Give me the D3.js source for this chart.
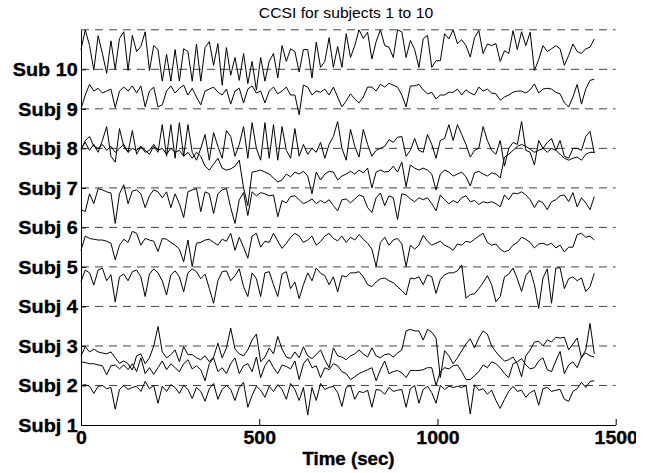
<!DOCTYPE html>
<html>
<head>
<meta charset="utf-8">
<script src="https://cdn.jsdelivr.net/npm/d3@7"></script>
<style>
body { margin: 0; background: #fff; }
svg { display: block; overflow: hidden; }
text { font-family: "Liberation Sans", Arial, Helvetica, sans-serif; }
</style>
</head>
<body>
<svg id="chart" width="636" height="473"></svg>
<script>
const title = "CCSI for subjects 1 to 10";
const xLabel = "Time (sec)";
const xTicks = [0, 500, 1000, 1500];
const yTicks = [1, 2, 3, 4, 5, 6, 7, 8, 9, 10];
const yTickLabels = ["Subj 1", "Subj 2", "Subj 3", "Subj 4", "Subj 5", "Subj 6", "Subj 7", "Subj 8", "Subj 9", "Sub 10"];
const dashedLevels = [2, 3, 4, 5, 6, 7, 8, 9, 10, 11];
const sampleStep = 12; // seconds between samples

// one CCSI trace per subject, already offset to its row
const subj1 = [2.0, 2.02, 1.98, 1.8, 1.98, 2.0, 1.92, 1.95, 1.4, 1.9,
  2.0, 1.9, 1.95, 1.98, 1.85, 2.1, 1.92, 2.0, 1.55, 1.98,
  1.85, 2.02, 1.95, 1.8, 2.0, 1.9, 1.67, 1.95, 1.85, 1.6,
  1.92, 2.05, 1.65, 1.9, 2.0, 1.9, 1.62, 1.95, 2.08, 1.45,
  1.75, 1.98, 1.88, 1.7, 1.98, 1.85, 2.02, 1.9, 1.65, 2.05,
  1.9, 1.62, 1.95, 1.25, 1.95, 1.62, 2.05, 1.9, 1.95, 1.98,
  1.82, 1.47, 1.95, 2.0, 1.65, 1.85, 1.82, 1.88, 1.45, 1.9,
  1.88, 1.78, 1.95, 1.85, 1.88, 1.9, 1.45, 1.92, 2.0, 1.55,
  1.9, 1.98, 1.82, 1.55, 2.0, 1.9, 1.98, 1.95, 1.98, 1.95,
  2.0, 1.28, 2.02, 1.88, 1.92, 1.78, 1.88, 1.62, 1.42, 1.65,
  1.85, 1.98, 1.85, 1.88, 1.7, 1.82, 1.88, 1.5, 1.92, 1.95,
  1.85, 1.88, 1.9, 1.65, 1.6, 1.85, 1.92, 2.08, 1.95, 2.1,
  2.12];
const subj2 = [2.6, 2.58, 2.55, 2.55, 2.52, 2.5, 2.27, 2.5, 2.52, 2.42,
  2.52, 2.4, 2.55, 2.35, 2.7, 2.3, 2.45, 2.28, 2.45, 2.62,
  2.4, 2.55, 2.45, 2.35, 2.55, 2.65, 2.42, 2.5, 2.4, 2.12,
  2.55, 2.7, 2.35, 2.45, 2.3, 2.55, 2.7, 2.3, 2.5, 2.55,
  2.35, 2.72, 2.2, 2.5, 2.65, 2.45, 2.3, 2.52, 2.48, 2.42,
  2.62, 2.15, 2.55, 2.68, 2.45, 2.5, 2.2, 2.45, 2.4, 2.55,
  2.5, 2.35, 2.3, 2.15, 2.22, 2.3, 2.35, 2.4, 2.45, 2.12,
  2.4, 2.62, 2.3, 2.35, 2.38, 2.32, 2.2, 2.38, 2.38, 2.38,
  2.4, 2.45, 2.45, 2.0, 2.35, 2.45, 2.42, 2.5, 2.52, 2.35,
  2.15, 2.15, 2.25, 2.35, 2.52, 2.45, 2.6, 2.55, 2.45, 2.3,
  2.2, 2.55, 2.6, 2.68, 2.52, 2.42, 2.45, 2.62, 2.7, 2.4,
  2.35, 2.62, 2.86, 2.3, 2.52, 2.6, 2.45, 2.72, 2.82, 2.75,
  2.72];
const subj3 = [2.75, 2.98, 2.85, 2.92, 2.85, 2.82, 2.8, 2.85, 2.7, 2.56,
  2.62, 2.55, 2.39, 2.75, 2.8, 2.55, 2.7, 3.0, 3.49, 2.85,
  2.7, 2.78, 2.9, 2.6, 2.98, 2.78, 2.78, 2.7, 2.65, 2.75,
  2.6, 2.72, 3.07, 2.7, 2.95, 3.45, 2.92, 2.8, 2.75, 2.9,
  3.15, 3.3, 2.6, 2.72, 2.95, 2.8, 3.24, 2.92, 2.72, 2.68,
  2.85, 2.7, 2.98, 2.75, 2.68, 2.78, 2.9, 2.65, 2.45, 2.95,
  2.75, 2.72, 2.65, 2.75, 2.8, 2.9, 2.8, 2.72, 2.95, 2.75,
  2.7, 2.78, 2.8, 2.72, 2.82, 2.9, 3.38, 3.42, 3.38, 3.38,
  3.15, 3.42, 3.35, 3.2, 2.2, 2.88, 2.75, 2.55, 2.7, 2.88,
  3.05, 3.18, 2.95, 3.2, 3.38, 3.3, 3.0, 2.85, 2.72, 2.62,
  2.65, 2.72, 2.55, 2.22, 2.75, 2.9, 3.1, 3.12, 3.0, 3.15,
  3.1, 3.22, 3.2, 3.22, 2.9, 3.05, 3.2, 2.7, 2.9, 3.57,
  2.8];
const subj4 = [4.63, 4.92, 4.85, 4.54, 4.92, 4.97, 4.65, 4.8, 4.11, 4.75,
  4.82, 4.65, 4.88, 4.92, 4.75, 4.25, 4.82, 4.95, 4.85, 4.65,
  4.29, 4.8, 4.9, 4.75, 4.37, 4.85, 4.95, 4.88, 4.7, 4.82,
  4.45, 4.08, 4.65, 4.88, 4.9, 4.65, 4.78, 4.95, 4.5, 4.25,
  4.85, 4.7, 4.25, 4.85, 4.88, 4.55, 4.25, 4.82, 4.88, 4.45,
  4.62, 4.2, 4.55, 4.85, 4.65, 4.97, 4.84, 4.78, 4.55, 4.75,
  4.37, 4.78, 4.75, 4.85, 4.85, 4.88, 4.75, 4.55, 4.5, 4.62,
  4.7, 4.72, 4.65, 4.6, 4.5, 4.4, 4.29, 4.72, 4.7, 4.75,
  4.55, 4.8, 4.75, 4.33, 4.68, 4.8, 4.85, 4.85, 4.9, 5.05,
  4.21, 4.3, 4.32, 4.45, 4.6, 4.78, 4.55, 4.12, 4.25, 4.75,
  4.82, 4.97, 4.7, 4.38, 4.78, 4.92, 4.55, 3.95, 4.72, 4.95,
  4.08, 4.97, 4.98, 4.45, 4.7, 4.75, 4.65, 4.72, 4.38, 4.5,
  4.84];
const subj5 = [5.42, 5.78, 5.72, 5.7, 5.68, 5.68, 5.65, 5.6, 5.18, 5.55,
  5.7, 5.62, 5.9, 5.85, 5.55, 5.72, 5.68, 5.65, 5.39, 5.72,
  5.7, 5.62, 5.55, 5.45, 5.13, 5.68, 5.01, 5.6, 5.62, 5.68,
  5.7, 5.62, 5.55, 5.7, 5.65, 5.85, 5.42, 5.75, 5.5, 5.22,
  5.78, 5.85, 5.5, 5.65, 5.62, 5.85, 5.65, 5.47, 5.6, 5.75,
  5.85, 5.78, 5.62, 5.68, 5.78, 5.55, 5.64, 5.78, 5.85, 5.72,
  5.66, 5.78, 5.62, 5.75, 5.68, 5.82, 5.7, 5.6, 5.45, 5.01,
  5.62, 5.75, 5.55, 5.68, 5.72, 5.58, 5.01, 5.55, 5.45, 5.55,
  5.8, 5.65, 5.55, 5.6, 5.65, 5.55, 5.5, 5.42, 5.58, 5.55,
  5.65, 5.62, 5.7, 5.78, 5.85, 5.62, 5.55, 5.58, 5.45, 5.38,
  5.42, 5.55, 5.62, 5.75, 5.7, 5.62, 5.48, 5.58, 5.6, 5.55,
  5.6, 5.48, 5.55, 5.38, 5.5, 5.5, 5.82, 5.85, 5.75, 5.78,
  5.68];
const subj6 = [6.45, 6.4, 6.85, 6.6, 6.98, 6.95, 6.9, 6.87, 6.1, 6.85,
  7.08, 6.6, 6.92, 6.95, 6.85, 6.5, 6.8, 6.95, 6.9, 6.75,
  6.9, 6.5, 6.85, 6.6, 6.25, 6.9, 6.95, 6.98, 6.4, 6.9,
  6.85, 6.35, 6.85, 6.95, 6.98, 6.5, 6.1, 6.7, 6.88, 6.3,
  6.9, 6.8, 6.88, 6.85, 6.8, 6.82, 6.27, 6.68, 6.62, 6.78,
  6.8, 6.7, 6.6, 6.65, 6.72, 6.6, 6.68, 6.62, 6.7, 6.55,
  6.42, 6.7, 6.72, 6.62, 6.72, 6.82, 6.78, 6.5, 6.38, 6.75,
  6.87, 6.55, 6.8, 6.75, 6.2, 6.85, 6.82, 6.72, 6.65, 6.75,
  6.7, 6.75, 6.6, 6.42, 6.82, 6.7, 6.6, 6.68, 6.62, 6.75,
  6.8, 6.65, 6.68, 6.58, 6.65, 6.62, 6.65, 6.6, 6.52, 6.82,
  6.7, 6.87, 6.85, 6.9, 6.82, 6.7, 6.5, 6.68, 6.62, 6.45,
  6.65, 6.7, 6.8, 6.82, 6.65, 6.88, 6.52, 6.75, 6.62, 6.45,
  6.78];
const subj7 = [7.95, 8.2, 8.3, 8.05, 8.0, 8.1, 7.95, 8.05, 7.9, 8.0,
  8.1, 7.9, 8.0, 7.95, 8.05, 7.9, 7.95, 8.1, 7.95, 8.0,
  7.85, 8.0, 7.9, 7.95, 7.8, 7.9, 7.75, 7.9, 7.8, 7.55,
  7.45, 7.6, 7.75, 7.5, 7.45, 7.48, 7.55, 7.7, 7.0, 6.55,
  7.4, 7.42, 7.45, 7.4, 7.35, 7.25, 7.15, 7.2, 7.35, 7.28,
  7.4, 7.35, 7.42, 7.3, 6.85, 7.4, 7.2, 7.35, 7.42, 7.4,
  7.2, 7.3, 7.35, 7.42, 7.35, 7.45, 7.38, 7.5, 7.0, 7.4,
  7.45, 7.4, 7.42, 7.55, 7.4, 7.65, 7.03, 7.58, 7.5, 7.45,
  7.5, 7.45, 7.35, 6.95, 7.35, 7.45, 7.4, 7.3, 7.35, 7.4,
  7.28, 7.05, 7.38, 7.42, 7.35, 7.3, 7.38, 7.35, 7.25, 7.78,
  7.85, 7.95, 8.05, 8.1, 8.05, 7.98, 7.9, 7.95, 8.0, 7.9,
  8.0, 7.95, 7.85, 7.75, 7.7, 7.75, 7.78, 7.7, 7.85, 7.9,
  7.9];
const subj8 = [8.0, 8.15, 7.95, 8.1, 7.9, 8.2, 8.55, 7.8, 7.65, 8.5,
  8.05, 7.9, 8.45, 7.85, 8.05, 7.95, 7.85, 8.05, 7.9, 8.6,
  7.8, 8.6, 7.75, 8.65, 7.8, 8.6, 7.9, 7.7, 8.0, 8.35,
  7.7, 8.4, 8.05, 7.75, 8.45, 8.3, 7.8, 8.1, 8.55, 7.75,
  8.65, 8.0, 7.7, 8.65, 7.75, 8.6, 7.7, 8.55, 7.95, 7.75,
  8.5, 7.8, 8.1, 7.85, 8.0, 7.9, 8.15, 7.75, 8.1, 8.3,
  8.68, 8.0, 7.7, 8.48, 8.05, 7.78, 8.48, 8.1, 7.8, 7.95,
  8.0, 8.05, 8.22, 8.15, 8.28, 8.3, 7.8, 7.95, 8.25, 7.95,
  7.9, 8.35, 8.1, 7.75, 8.2, 8.25, 8.6, 8.2, 8.6, 8.35,
  8.1, 7.78, 7.95, 8.0, 8.55, 8.2, 7.95, 7.85, 8.2, 7.55,
  8.0, 8.15, 8.1, 8.68, 7.95, 7.9, 7.58, 8.2, 8.0, 8.15,
  8.25, 7.95, 8.2, 7.8, 7.75, 8.0, 8.0, 7.95, 8.3, 8.43,
  7.88];
const subj9 = [9.0, 9.35, 9.62, 9.45, 9.52, 9.4, 9.45, 9.5, 9.03, 9.45,
  9.55, 9.45, 9.58, 9.4, 9.58, 9.05, 9.45, 9.55, 9.05, 9.1,
  9.45, 9.58, 9.4, 9.52, 9.6, 9.35, 9.52, 9.3, 9.1, 9.45,
  9.5, 9.55, 9.42, 9.35, 9.5, 9.12, 9.45, 9.52, 9.15, 9.5,
  9.58, 9.4, 9.45, 9.15, 9.45, 9.55, 9.38, 9.45, 9.55, 9.35,
  9.35, 8.85, 9.6, 9.55, 9.35, 9.45, 9.42, 9.5, 9.35, 9.55,
  9.3, 9.05, 9.2, 9.38, 9.25, 9.15, 9.3, 9.55, 9.55, 9.45,
  9.62, 9.55, 9.65, 9.6, 9.55, 9.35, 9.05, 9.58, 9.58, 9.62,
  9.48, 9.38, 9.42, 9.25, 9.35, 9.35, 9.42, 9.42, 9.5, 9.35,
  9.48, 9.4, 9.35, 9.55, 9.45, 9.5, 9.4, 9.38, 9.22, 9.3,
  9.35, 9.42, 9.45, 9.45, 9.4, 9.48, 9.63, 9.4, 9.5, 9.52,
  9.5, 9.42, 9.38, 9.15, 9.05, 9.3, 9.62, 9.12, 9.5, 9.72,
  9.75];
const subj10 = [10.5, 11.0, 10.6, 9.98, 10.85, 10.4, 9.9, 10.72, 10.0, 10.78,
  10.95, 9.97, 10.86, 10.45, 10.58, 10.95, 9.97, 10.6, 10.5, 9.7,
  10.38, 9.7, 10.5, 9.7, 10.52, 10.45, 9.7, 10.64, 9.7, 10.55,
  10.7, 10.1, 10.65, 9.6, 10.55, 9.85, 10.3, 9.72, 10.4, 9.64,
  10.2, 9.47, 10.3, 9.7, 10.2, 10.4, 9.78, 10.6, 10.2, 10.52,
  10.45, 9.93, 10.5, 10.5, 9.78, 10.69, 10.05, 10.2, 10.8, 10.05,
  10.58, 10.05, 10.9, 10.3, 10.6, 11.0, 10.78, 10.94, 10.26, 10.7,
  11.0, 10.6, 10.56, 10.3, 11.0, 10.95, 10.3, 10.73, 10.5, 10.05,
  10.77, 10.86, 10.05, 10.22, 10.22, 10.9, 10.77, 11.0, 10.65, 10.75,
  10.6, 10.31, 10.8, 10.98, 10.4, 10.64, 10.6, 10.65, 10.2, 10.47,
  10.4, 10.98, 10.5, 10.95, 10.6, 10.94, 9.97, 10.25, 10.6, 10.45,
  10.52, 10.6, 10.52, 10.1, 10.35, 10.64, 10.45, 10.4, 10.52, 10.56,
  10.77];

const traces = [subj1, subj2, subj3, subj4, subj5, subj6, subj7, subj8, subj9, subj10];

const svg = d3.select("#chart");

let x = d3.scaleLinear().domain([0, 1500]).range([81, 615.7]);
let y = d3.scaleLinear().domain([1, 11]).range([425, 29.8]);

// dashed line at each subject row
svg.append("g")
    .selectAll("line")
    .data(dashedLevels)
    .enter().append("line")
    .attr("x1", x(0))
    .attr("x2", x(1500))
    .attr("y1", function (d) { return y(d); })
    .attr("y2", function (d) { return y(d); })
    .attr("stroke", "#444")
    .attr("stroke-dasharray", "8,6");

// the traces
let line = d3.line()
    .x(function (d, i) { return x(i * sampleStep); })
    .y(function (d) { return y(d); });

svg.append("g")
    .selectAll("path")
    .data(traces)
    .enter().append("path")
    .attr("d", line)
    .attr("fill", "none")
    .attr("stroke", "#000")
    .attr("stroke-width", 1);

// x axis, ticks pointing in
let xAxis = svg.append("g")
    .attr("transform", "translate(0,425)")
    .call(d3.axisBottom(x).tickValues(xTicks).tickSize(-6).tickSizeOuter(0)
        .tickPadding(6.5).tickFormat(d3.format("d")));
xAxis.attr("font-family", null).attr("font-size", null);
xAxis.selectAll(".tick text")
    .attr("font-size", "18px")
    .attr("font-weight", "bold")
    .attr("stroke", "#000")
    .attr("stroke-width", 0.35)
    .attr("transform", "scale(1.08,1)");

// y axis with subject names
let yAxis = svg.append("g")
    .attr("transform", "translate(81,0)")
    .call(d3.axisLeft(y).tickValues(yTicks).tickSize(-5).tickSizeOuter(0)
        .tickPadding(3).tickFormat(function (d, i) { return yTickLabels[i]; }));
yAxis.attr("font-family", null).attr("font-size", null);
yAxis.selectAll(".tick text")
    .attr("font-size", "18px")
    .attr("font-weight", "bold")
    .attr("stroke", "#000")
    .attr("stroke-width", 0.35)
    .attr("dy", "0.36em")
    .attr("transform", "scale(1.1,1)");

svg.append("text")
    .attr("transform", "translate(346,18.3) scale(1.12,1)")
    .attr("text-anchor", "middle")
    .attr("font-size", "14px")
    .text(title);

svg.append("text")
    .attr("transform", "translate(348.5,465) scale(1.07,1)")
    .attr("text-anchor", "middle")
    .attr("font-size", "17.5px")
    .attr("font-weight", "bold")
    .attr("stroke", "#000")
    .attr("stroke-width", 0.35)
    .text(xLabel);
</script>
</body>
</html>
